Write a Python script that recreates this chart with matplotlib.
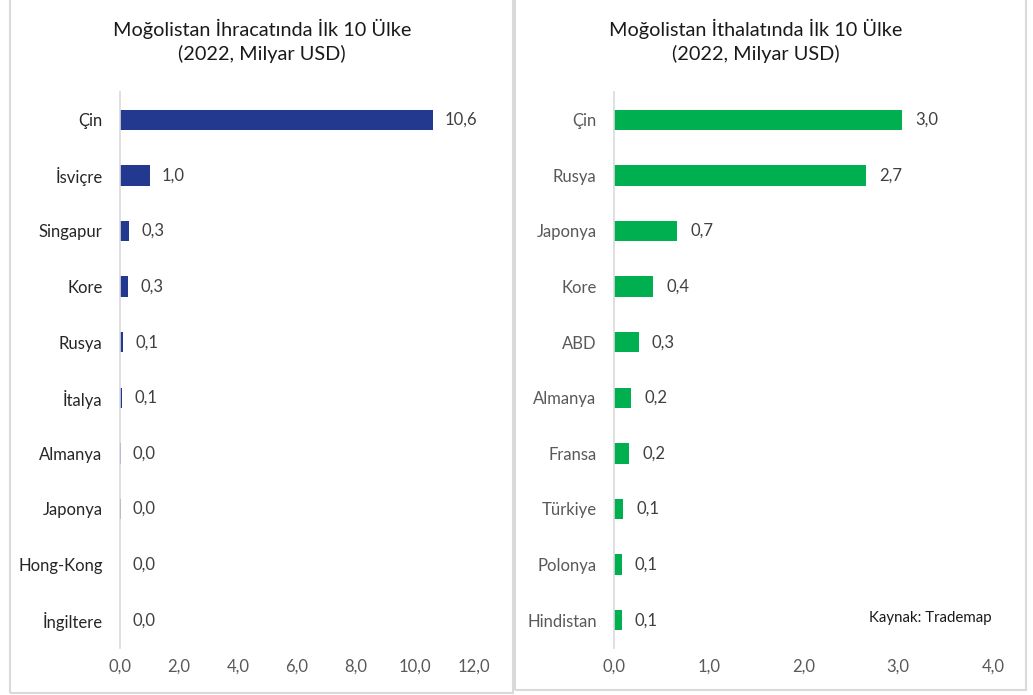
import matplotlib
matplotlib.use('Agg')
import matplotlib.pyplot as plt
from matplotlib.patches import Rectangle

plt.rcParams['font.family'] = ['Lato', 'DejaVu Sans']

# export data (2022, billion USD)
exp_countries = ['Çin', 'İsviçre', 'Singapur', 'Kore', 'Rusya', 'İtalya',
                 'Almanya', 'Japonya', 'Hong-Kong', 'İngiltere']
exp_values = [10.6, 1.0, 0.3, 0.26, 0.1, 0.07, 0.02, 0.02, 0.01, 0.01]

# import data (2022, billion USD)
imp_countries = ['Çin', 'Rusya', 'Japonya', 'Kore', 'ABD', 'Almanya',
                 'Fransa', 'Türkiye', 'Polonya', 'Hindistan']
imp_values = [3.04, 2.66, 0.67, 0.41, 0.26, 0.18, 0.16, 0.1, 0.08, 0.08]

exp_ticks = [0, 2, 4, 6, 8, 10, 12]
imp_ticks = [0, 1, 2, 3, 4]

W, H = 1033, 695
fig = plt.figure(figsize=(W / 100, H / 100), dpi=100)

# panel frames
for x0, x1, y1 in [(10, 513, 693), (515, 1026, 690)]:
    fig.patches.append(Rectangle((x0 / W, 1 - y1 / H), (x1 - x0) / W, y1 / H + 0.01,
                                 transform=fig.transFigure, fill=False,
                                 edgecolor='#d9d9d9', linewidth=1.5))


def fmt(v):
    return ('%.1f' % v).replace('.', ',')


def panel(rect, countries, values, ticks, color, label_color):
    ax = fig.add_axes(rect)
    y = list(range(len(countries)))
    ax.barh(y, values, height=0.37, color=color, linewidth=0)
    ax.set_ylim(len(countries) - 0.5, -0.5)
    ax.set_xlim(ticks[0], ticks[-1])
    ax.set_yticks(y)
    ax.set_yticklabels(countries, fontsize=12, color=label_color)
    ax.set_xticks(ticks)
    ax.set_xticklabels([fmt(t) for t in ticks], fontsize=12, color='#595959')
    ax.tick_params(axis='y', length=0, pad=12.5)
    ax.tick_params(axis='x', length=0, pad=8)
    for s in ['top', 'right', 'bottom']:
        ax.spines[s].set_visible(False)
    ax.spines['left'].set_color('#d9d9d9')
    ax.spines['left'].set_linewidth(1.2)
    xr = ticks[-1] - ticks[0]
    for yi, v in zip(y, values):
        ax.text(v + xr * 0.035, yi, fmt(v), va='center',
                ha='left', fontsize=12, color='#404040')
    return ax


axl = panel([120 / W, 1 - 648 / H, (474 - 120) / W, 556 / H],
            exp_countries, exp_values, exp_ticks, '#22398f', '#262626')
axr = panel([614 / W, 1 - 648 / H, (993 - 614) / W, 556 / H],
            imp_countries, imp_values, imp_ticks, '#00b050', '#595959')

fig.text(262 / W, 1 - 41 / H, 'Moğolistan İhracatında İlk 10 Ülke\n(2022, Milyar USD)',
         ha='center', va='center', fontsize=14.3, color='#1a1a1a', linespacing=1.4)
fig.text(756 / W, 1 - 41 / H, 'Moğolistan İthalatında İlk 10 Ülke\n(2022, Milyar USD)',
         ha='center', va='center', fontsize=14.3, color='#1a1a1a', linespacing=1.4)
fig.text(992 / W, 1 - 618 / H, 'Kaynak: Trademap', ha='right', va='center',
         fontsize=10.8, color='#1a1a1a')

fig.savefig('out.png', dpi=100)
